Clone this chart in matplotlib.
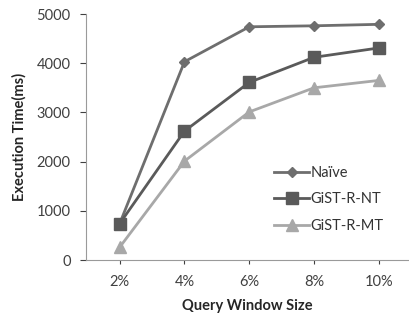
import matplotlib
matplotlib.use("Agg")
import matplotlib.pyplot as plt

plt.rcParams['font.family'] = ['Lato', 'DejaVu Sans']

categories = ['2%', '4%', '6%', '8%', '10%']
naive = [740, 4030, 4740, 4760, 4790]
gist_nt = [740, 2620, 3610, 4120, 4310]
gist_mt = [260, 2010, 3010, 3500, 3650]

fig = plt.figure(figsize=(4.09, 3.13), dpi=100)
ax = fig.add_axes([86/409, 53/313, 322/409, 246/313])

x = range(len(categories))
ax.plot(x, naive, color='#6e6e6e', marker='D', markersize=5, linewidth=2.0, label='Naïve')
ax.plot(x, gist_nt, color='#5a5a5a', marker='s', markersize=9, linewidth=2.0, label='GiST-R-NT')
ax.plot(x, gist_mt, color='#a8a8a8', marker='^', markersize=8, linewidth=2.0, label='GiST-R-MT')

ax.set_xlim(-0.52, 4.45)
ax.set_ylim(0, 5000)
ax.set_yticks([0, 1000, 2000, 3000, 4000, 5000])
ax.set_xticks(list(x), categories)
ax.tick_params(axis='both', labelsize=10.5, colors='#404040', length=4, width=0.8)
ax.tick_params(axis='x', length=3, pad=8)
ax.tick_params(axis='y', pad=7)
for s in ['top', 'right']:
    ax.spines[s].set_visible(False)
for s in ['left', 'bottom']:
    ax.spines[s].set_color('#9a9a9a')

ax.set_xlabel('Query Window Size', fontsize=10.5, fontweight='bold', color='#262626', labelpad=7)
ax.set_ylabel('Execution Time(ms)', fontsize=10.5, fontweight='bold', color='#262626', labelpad=7)

leg = ax.legend(loc='lower right', bbox_to_anchor=(0.965, 0.058), frameon=False,
                fontsize=10.5, handlelength=2.4, handletextpad=0.1, labelspacing=0.85)
for t in leg.get_texts():
    t.set_color('#333333')

fig.savefig('out.png', dpi=100)
